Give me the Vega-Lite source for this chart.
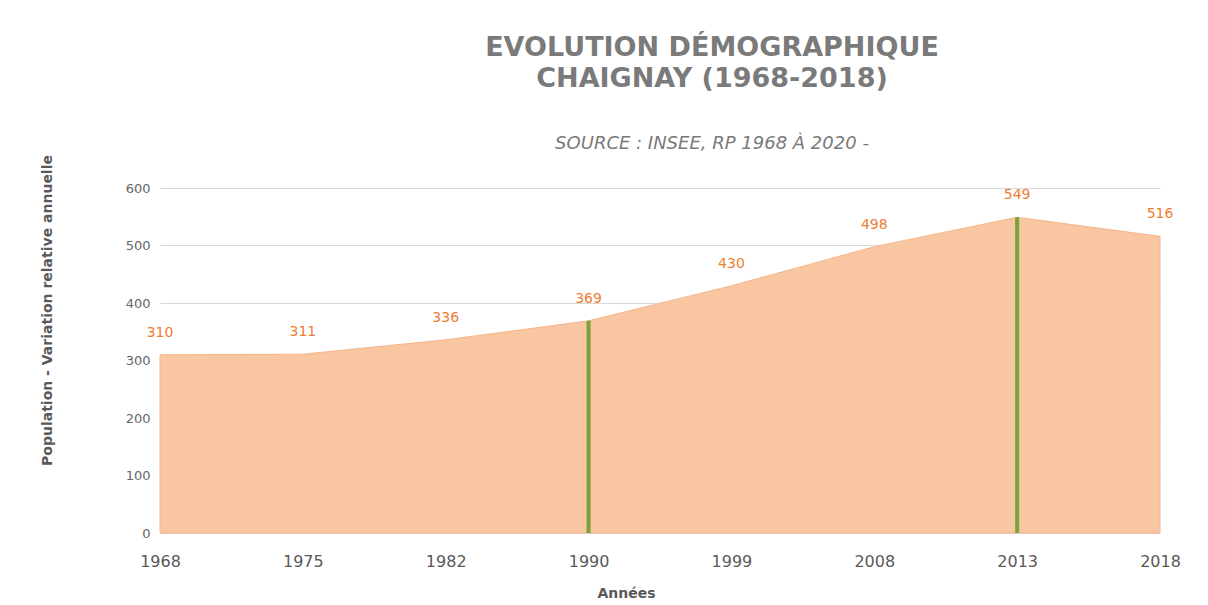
{
  "$schema": "https://vega.github.io/schema/vega-lite/v6.json",
  "width": 1000,
  "height": 345,
  "autosize": {"type": "none"},
  "padding": {"left": 160, "top": 188, "right": 48, "bottom": 72},
  "background": "white",
  "title": {
    "text": ["EVOLUTION DÉMOGRAPHIQUE", "CHAIGNAY (1968-2018)"],
    "subtitle": "SOURCE : INSEE, RP 1968 À 2020 -",
    "font": "DejaVu Sans",
    "fontSize": 27,
    "fontWeight": "bold",
    "color": "#7a7a7a",
    "lineHeight": 31,
    "subtitleFont": "DejaVu Sans",
    "subtitleFontSize": 18,
    "subtitleFontStyle": "italic",
    "subtitleColor": "#7a7a7a",
    "subtitlePadding": 42,
    "anchor": "middle",
    "dx": 52,
    "offset": 1
  },
  "data": {
    "values": [
      {"year": 1968, "pop": 310},
      {"year": 1975, "pop": 311},
      {"year": 1982, "pop": 336},
      {"year": 1990, "pop": 369},
      {"year": 1999, "pop": 430},
      {"year": 2008, "pop": 498},
      {"year": 2013, "pop": 549},
      {"year": 2018, "pop": 516}
    ]
  },
  "encoding": {
    "x": {
      "field": "year",
      "type": "ordinal",
      "scale": {"type": "point", "padding": 0, "paddingOuter": 0},
      "axis": {
        "labelAngle": 0,
        "ticks": false,
        "domain": false,
        "grid": false,
        "labelPadding": 20,
        "labelFont": "DejaVu Sans",
        "labelFontSize": 16,
        "labelColor": "#595959",
        "title": "Années",
        "titleFont": "DejaVu Sans",
        "titleFontSize": 14,
        "titleFontWeight": "bold",
        "titleColor": "#595959",
        "titleX": 466,
        "titleY": 60,
        "titleBaseline": "middle"
      }
    },
    "y": {
      "field": "pop",
      "type": "quantitative",
      "scale": {"domain": [0, 600], "nice": false},
      "axis": {
        "values": [0, 100, 200, 300, 400, 500, 600],
        "ticks": false,
        "domain": false,
        "gridColor": "#D9D9D9",
        "labelPadding": 10,
        "labelFont": "DejaVu Sans",
        "labelFontSize": 13,
        "labelColor": "#666666",
        "title": "Population - Variation relative annuelle",
        "titleFont": "DejaVu Sans",
        "titleFontSize": 14,
        "titleFontWeight": "bold",
        "titleColor": "#595959",
        "titleX": -113,
        "titleY": 122,
        "titleAlign": "center",
        "titleBaseline": "middle"
      }
    }
  },
  "layer": [
    {
      "mark": {"type": "area", "color": "#F8C6A0", "stroke": "#F6B58A", "strokeWidth": 1}
    },
    {
      "transform": [{"filter": "datum.year == 1990 || datum.year == 2013"}],
      "mark": {"type": "rule", "color": "#77A33A", "strokeWidth": 4},
      "encoding": {"y2": {"datum": 0}}
    },
    {
      "mark": {"type": "text", "dy": -22, "color": "#ED7D31", "font": "DejaVu Sans", "fontSize": 14},
      "encoding": {"text": {"field": "pop", "type": "quantitative"}}
    }
  ],
  "config": {"view": {"stroke": null}}
}
